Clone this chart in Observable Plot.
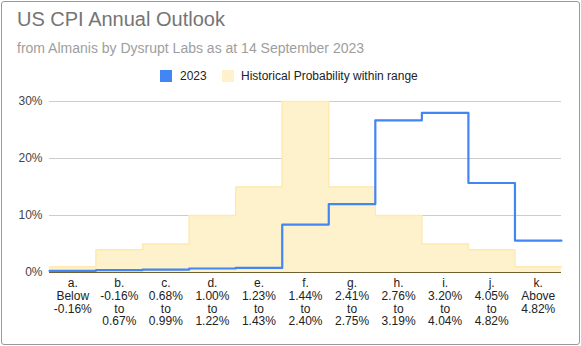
<!DOCTYPE html>
<html>
<head>
<meta charset="utf-8">
<script src="https://cdn.jsdelivr.net/npm/d3@7"></script>
<script src="https://cdn.jsdelivr.net/npm/@observablehq/plot@0.6"></script>
<style>
  html, body { margin: 0; padding: 0; background: #fff; }
  body { font-family: "Liberation Sans", Arial, sans-serif; }
  #wrap { position: relative; width: 581px; height: 346px; overflow: hidden; }
  #frame { position: absolute; left: 1px; top: 1px; width: 577px; height: 342px; border: 1px solid #9a9a9a; border-radius: 3px; pointer-events: none; }
  #head { position: relative; height: 88px; }
  #title { position: absolute; left: 17px; top: 8px; font-size: 20px; color: #757575; }
  #subtitle { position: absolute; left: 17px; top: 40px; font-size: 14px; color: #9e9e9e; }
  #legend { position: absolute; left: 0; top: 68px; width: 581px; font-size: 12px; color: #222; }
  .sw { position: absolute; top: 2px; width: 12px; height: 12px; }
  .lt { position: absolute; top: 1px; }
</style>
</head>
<body>
<div id="wrap">
  <div id="head">
    <div id="title">US CPI Annual Outlook</div>
    <div id="subtitle">from Almanis by Dysrupt Labs as at 14 September 2023</div>
    <div id="legend">
      <div class="sw" style="left:160px;background:#4285f4"></div>
      <div class="lt" style="left:180px">2023</div>
      <div class="sw" style="left:222px;background:#fdf2cc"></div>
      <div class="lt" style="left:241px">Historical Probability within range</div>
    </div>
  </div>
  <div id="chart"></div>
  <div id="frame"></div>
</div>
<script>
const letters = ["a.", "b.", "c.", "d.", "e.", "f.", "g.", "h.", "i.", "j.", "k."];
const ranges = [
  ["Below", "-0.16%"],
  ["-0.16%", "to", "0.67%"],
  ["0.68%", "to", "0.99%"],
  ["1.00%", "to", "1.22%"],
  ["1.23%", "to", "1.43%"],
  ["1.44%", "to", "2.40%"],
  ["2.41%", "to", "2.75%"],
  ["2.76%", "to", "3.19%"],
  ["3.20%", "to", "4.04%"],
  ["4.05%", "to", "4.82%"],
  ["Above", "4.82%"]
];
const values2023 = [0.3, 0.4, 0.5, 0.7, 0.8, 8.4, 12.0, 26.7, 28.0, 15.7, 5.6];
const historical = [1, 4, 5, 10, 15, 30, 15, 10, 5, 4, 1];
const yTicks = [0, 10, 20, 30];

const n = letters.length;
const stepData = (vals) => {
  const d = vals.map((v, i) => ({x: i, v}));
  d.push({x: n, v: vals[n - 1]});
  return d;
};
const hist = stepData(historical);
const cur = stepData(values2023);
const tickPos = d3.range(n).map(i => i + 0.5);
const labels = letters.map((l, i) => [l, ...ranges[i]].join("\n"));

const chart = Plot.plot({
  width: 581,
  height: 258,
  marginLeft: 49,
  marginRight: 20,
  marginTop: 13,
  marginBottom: 74,
  style: {fontFamily: '"Liberation Sans", Arial, sans-serif', fontSize: "12px", color: "#222", background: "transparent"},
  x: {type: "linear", domain: [0, n]},
  y: {domain: [0, 30]},
  marks: [
    Plot.ruleY([10, 20, 30], {stroke: "#cccccc", strokeOpacity: 1}),
    Plot.areaY(hist, {x: "x", y: "v", curve: "step-after", fill: "#fdf2cc", fillOpacity: 1}),
    Plot.lineY(hist, {x: "x", y: "v", curve: "step-after", stroke: "#fdeab0", strokeWidth: 1.5}),
    Plot.ruleY([0], {stroke: "#6e6033", strokeWidth: 1.2}),
    Plot.lineY(cur, {x: "x", y: "v", curve: "step-after", stroke: "#4285f4", strokeWidth: 2.2, strokeLinejoin: "round", strokeLinecap: "round"}),
    Plot.axisY({ticks: yTicks, tickSize: 0, tickPadding: 7, tickFormat: d => d + "%", label: null, fill: "#444", fontSize: 12}),
    Plot.axisX({ticks: tickPos, tickSize: 0, tickPadding: 6, tickFormat: (d, i) => labels[i], label: null, lineHeight: 1.05, fill: "#222", fontSize: 12})
  ]
});
document.getElementById("chart").appendChild(chart);
</script>
</body>
</html>
